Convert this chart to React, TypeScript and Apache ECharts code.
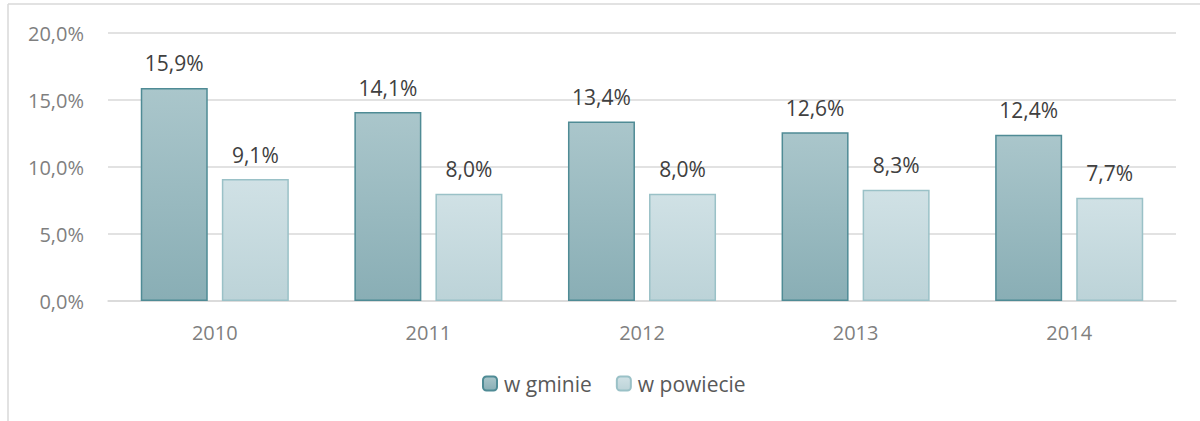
import React, { useEffect, useRef } from "react";
import * as echarts from "echarts";

const categories = ["2010", "2011", "2012", "2013", "2014"];
const gminaValues = [15.9, 14.1, 13.4, 12.6, 12.4];
const powiatValues = [9.1, 8.0, 8.0, 8.3, 7.7];
const seriesNames = ["w gminie", "w powiecie"];

const fmt = (v: number) => v.toFixed(1).replace(".", ",") + "%";
const FONT = "Open Sans";

export default function App() {
  const ref = useRef<HTMLDivElement>(null);
  useEffect(() => {
    if (!ref.current) return;
    const chart = echarts.init(ref.current, null, { renderer: "svg" });
    const labelCfg = {
      show: true,
      position: "top" as const,
      distance: 14,
      color: "#404040",
      fontSize: 21,
      fontFamily: FONT,
      formatter: (p: any) => fmt(p.value),
    };
    chart.setOption({
      animation: false,
      backgroundColor: "#fff",
      textStyle: { fontFamily: FONT },
      grid: { left: 108, right: 24, top: 33, bottom: 120, containLabel: false },
      legend: {
        bottom: 22,
        left: 477,
        itemWidth: 14,
        itemHeight: 14,
        itemGap: 24,
        textStyle: { color: "#595959", fontSize: 21, fontFamily: FONT, padding: [0, 0, 0, 2] },
        data: seriesNames,
      },
      xAxis: {
        type: "category",
        data: categories,
        axisLine: { show: true, lineStyle: { color: "#d9d9d9", width: 1.5 } },
        axisTick: { show: false },
        axisLabel: { color: "#7f7f7f", fontSize: 20, margin: 21, fontFamily: FONT },
      },
      yAxis: {
        type: "value",
        min: 0,
        max: 20,
        interval: 5,
        axisLine: { show: false },
        axisTick: { show: false },
        splitLine: { lineStyle: { color: "#d9d9d9", width: 1.5 } },
        axisLabel: { color: "#7f7f7f", fontSize: 20, margin: 24, fontFamily: FONT, formatter: (v: number) => fmt(v) },
      },
      graphic: [
        { type: "line", shape: { x1: 8, y1: 4, x2: 1200, y2: 4 }, style: { stroke: "#d9d9d9", lineWidth: 1.5 } },
        { type: "line", shape: { x1: 8, y1: 4, x2: 8, y2: 421 }, style: { stroke: "#d9d9d9", lineWidth: 1.5 } },
      ],
      series: [
        {
          name: seriesNames[0],
          type: "bar",
          data: gminaValues,
          barWidth: 67,
          barGap: "21%",
          itemStyle: {
            color: new echarts.graphic.LinearGradient(0, 0, 0, 1, [
              { offset: 0, color: "#aac6cb" },
              { offset: 1, color: "#89aeb5" },
            ]),
            borderColor: "#4f8b95",
            borderWidth: 1.5,
          },
          label: labelCfg,
        },
        {
          name: seriesNames[1],
          type: "bar",
          data: powiatValues,
          barWidth: 67,
          itemStyle: {
            color: new echarts.graphic.LinearGradient(0, 0, 0, 1, [
              { offset: 0, color: "#d0e1e5" },
              { offset: 1, color: "#bcd3d8" },
            ]),
            borderColor: "#9ac1c7",
            borderWidth: 1.5,
          },
          label: labelCfg,
        },
      ],
    });
    return () => chart.dispose();
  }, []);
  return (
    <div
      ref={ref}
      style={{ position: "fixed", left: 0, top: 0, width: 1200, height: 421 }}
    />
  );
}
